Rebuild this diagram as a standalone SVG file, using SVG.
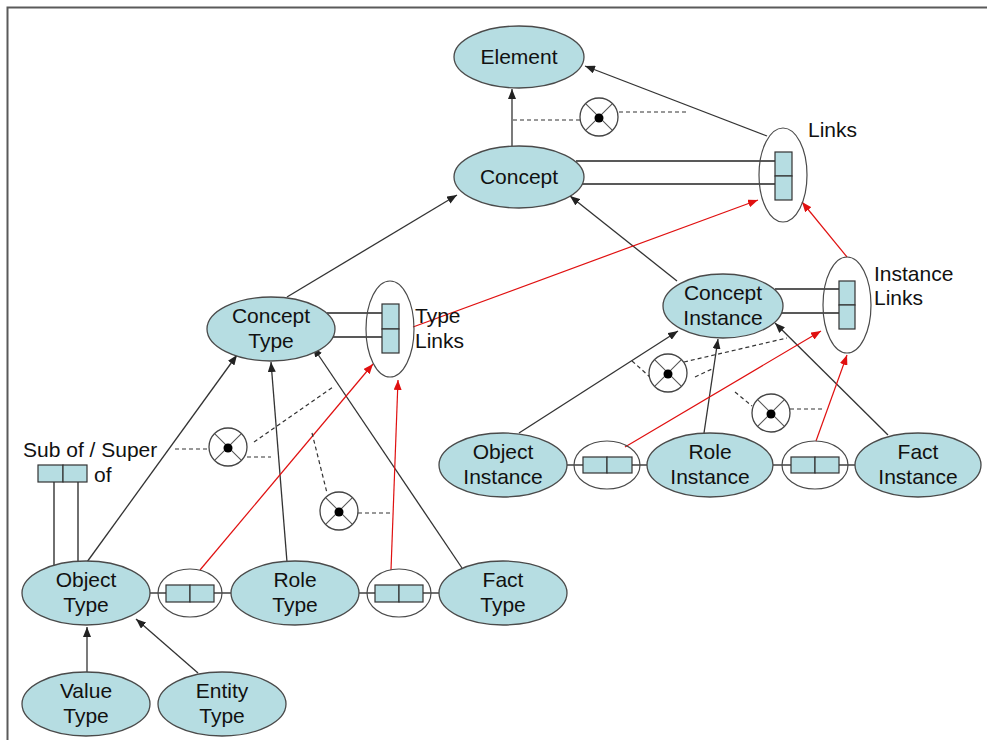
<svg xmlns="http://www.w3.org/2000/svg" width="987" height="740" viewBox="0 0 987 740">
  <defs>
    <marker id="arrowBlack" markerUnits="userSpaceOnUse" markerWidth="10" markerHeight="8" refX="10" refY="4" orient="auto">
      <path d="M0,0 L10,4 L0,8 z" fill="#222"/>
    </marker>
    <marker id="arrowRed" markerUnits="userSpaceOnUse" markerWidth="10" markerHeight="8" refX="10" refY="4" orient="auto">
      <path d="M0,0 L10,4 L0,8 z" fill="#e01010"/>
    </marker>
    <!-- exclusion symbol: circle with a cross and a centre dot -->
    <g id="xcircle">
      <circle cx="0" cy="0" r="19" fill="#fff" stroke="#444" stroke-width="1.3"/>
      <line x1="-13.4" y1="-13.4" x2="13.4" y2="13.4" stroke="#555" stroke-width="1.1"/>
      <line x1="13.4" y1="-13.4" x2="-13.4" y2="13.4" stroke="#555" stroke-width="1.1"/>
      <circle cx="0" cy="1" r="4.5" fill="#000"/>
    </g>
  </defs>
  <style>
    .node { fill: #b6dde2; stroke: #4a4a4a; stroke-width: 1.3; }
    .link { fill: none; stroke: #4a4a4a; stroke-width: 1.2; }
    .cell { fill: #b6dde2; stroke: #333; stroke-width: 1.2; }
    .bar { stroke: #222; stroke-width: 1.3; fill: none; }
    .arrow { stroke: #333; stroke-width: 1.3; fill: none; marker-end: url(#arrowBlack); }
    .red { stroke: #e01010; stroke-width: 1.2; fill: none; marker-end: url(#arrowRed); }
    .dash { stroke: #333; stroke-width: 1.2; stroke-dasharray: 4 3; fill: none; }
    text { font-family: "Liberation Sans", Arial, sans-serif; font-size: 21px; fill: #111; }
    .c { text-anchor: middle; }
  </style>

  <rect width="987" height="740" fill="#fff"/>
  <!-- slide frame -->
  <path d="M7.5,740 V7.5 H987" fill="none" stroke="#5a5a5a" stroke-width="2"/>

  <!-- connectors -->
  <g id="connectors">
    <!-- role bars from nodes into link ellipses -->
    <line class="bar" x1="576" y1="161" x2="775" y2="161"/>
    <line class="bar" x1="575" y1="184" x2="775" y2="184"/>
    <line class="bar" x1="327" y1="313" x2="382" y2="313"/>
    <line class="bar" x1="326" y1="337" x2="382" y2="337"/>
    <line class="bar" x1="775" y1="289" x2="839" y2="289"/>
    <line class="bar" x1="777" y1="313" x2="839" y2="313"/>
    <line class="bar" x1="54" y1="482" x2="54" y2="567"/>
    <line class="bar" x1="78" y1="482" x2="78" y2="562"/>
    <!-- chains along the type row -->
    <line class="bar" x1="150" y1="593" x2="166" y2="593"/>
    <line class="bar" x1="214" y1="593" x2="231" y2="593"/>
    <line class="bar" x1="359" y1="593" x2="375" y2="593"/>
    <line class="bar" x1="423" y1="593" x2="439" y2="593"/>
    <!-- chains along the instance row -->
    <line class="bar" x1="567" y1="465" x2="583" y2="465"/>
    <line class="bar" x1="632" y1="465" x2="647" y2="465"/>
    <line class="bar" x1="773" y1="465" x2="791" y2="465"/>
    <line class="bar" x1="839" y1="465" x2="855" y2="465"/>

    <!-- subtype arrows -->
    <line class="arrow" x1="512" y1="146" x2="512" y2="89"/>
    <line class="arrow" x1="767" y1="136" x2="585" y2="66"/>
    <line class="arrow" x1="287" y1="297" x2="457" y2="195"/>
    <line class="arrow" x1="677" y1="281" x2="570" y2="196"/>
    <line class="arrow" x1="87" y1="562" x2="237" y2="355"/>
    <line class="arrow" x1="287" y1="562" x2="271" y2="362"/>
    <line class="arrow" x1="462" y1="568" x2="313" y2="347"/>
    <line class="arrow" x1="519" y1="433" x2="678" y2="331"/>
    <line class="arrow" x1="704" y1="433" x2="718" y2="339"/>
    <line class="arrow" x1="888" y1="435" x2="775" y2="323"/>
    <line class="arrow" x1="87" y1="672" x2="87" y2="627"/>
    <line class="arrow" x1="198" y1="673" x2="136" y2="619"/>

    <!-- link subtype arrows -->
    <line class="red" x1="200" y1="570" x2="373" y2="364"/>
    <line class="red" x1="391" y1="570" x2="398" y2="380"/>
    <line class="red" x1="413" y1="327" x2="758" y2="200"/>
    <line class="red" x1="625" y1="447" x2="821" y2="331"/>
    <line class="red" x1="816" y1="441" x2="847" y2="355"/>
    <line class="red" x1="847" y1="257" x2="802" y2="202"/>

    <!-- exclusion constraints -->
    <line class="dash" x1="513" y1="120" x2="580" y2="120"/>
    <line class="dash" x1="619" y1="112" x2="687" y2="112"/>
    <line class="dash" x1="175" y1="449" x2="209" y2="449"/>
    <line class="dash" x1="254" y1="442" x2="333" y2="387"/>
    <line class="dash" x1="247" y1="457" x2="271" y2="457"/>
    <line class="dash" x1="312" y1="433" x2="327" y2="493"/>
    <line class="dash" x1="358" y1="513" x2="392" y2="513"/>
    <line class="dash" x1="632" y1="361" x2="650" y2="377"/>
    <line class="dash" x1="684" y1="362" x2="787" y2="338"/>
    <line class="dash" x1="695" y1="377" x2="712" y2="369"/>
    <line class="dash" x1="735" y1="392" x2="752" y2="406"/>
    <line class="dash" x1="790" y1="409" x2="823" y2="409"/>
    <use href="#xcircle" x="599" y="117"/>
    <use href="#xcircle" x="228" y="447"/>
    <use href="#xcircle" x="339" y="511"/>
    <use href="#xcircle" x="668" y="373"/>
    <use href="#xcircle" x="771" y="413"/>
  </g>

  <!-- top level -->
  <g id="element">
    <ellipse class="node" cx="519" cy="57" rx="65" ry="31"/>
    <text class="c" x="519" y="64">Element</text>
  </g>
  <g id="concept">
    <ellipse class="node" cx="519" cy="177" rx="65" ry="31"/>
    <text class="c" x="519" y="184">Concept</text>
  </g>
  <g id="links">
    <ellipse class="link" cx="783" cy="175" rx="24" ry="47"/>
    <rect class="cell" x="775" y="152" width="17" height="24"/>
    <rect class="cell" x="775" y="176" width="17" height="24"/>
    <text x="808" y="137">Links</text>
  </g>

  <!-- type side -->
  <g id="concept-type">
    <ellipse class="node" cx="271" cy="329" rx="64" ry="32"/>
    <text class="c" x="271" y="323">Concept</text>
    <text class="c" x="271" y="348">Type</text>
  </g>
  <g id="type-links">
    <ellipse class="link" cx="390" cy="329" rx="24" ry="48"/>
    <rect class="cell" x="382" y="304" width="17" height="25"/>
    <rect class="cell" x="382" y="329" width="17" height="24"/>
    <text x="415" y="323">Type</text>
    <text x="415" y="348">Links</text>
  </g>
  <g id="sub-super">
    <rect class="cell" x="38" y="465" width="25" height="17"/>
    <rect class="cell" x="63" y="465" width="24" height="17"/>
    <text x="23" y="457">Sub of / Super</text>
    <text x="94" y="482">of</text>
  </g>
  <g id="object-type">
    <ellipse class="node" cx="86" cy="593" rx="64" ry="32"/>
    <text class="c" x="86" y="587">Object</text>
    <text class="c" x="86" y="612">Type</text>
  </g>
  <g id="object-role-link">
    <ellipse class="link" cx="190" cy="593" rx="32" ry="24"/>
    <rect class="cell" x="166" y="585" width="24" height="17"/>
    <rect class="cell" x="190" y="585" width="24" height="17"/>
  </g>
  <g id="role-type">
    <ellipse class="node" cx="295" cy="593" rx="64" ry="32"/>
    <text class="c" x="295" y="587">Role</text>
    <text class="c" x="295" y="612">Type</text>
  </g>
  <g id="role-fact-link">
    <ellipse class="link" cx="399" cy="593" rx="32" ry="24"/>
    <rect class="cell" x="375" y="585" width="24" height="17"/>
    <rect class="cell" x="399" y="585" width="24" height="17"/>
  </g>
  <g id="fact-type">
    <ellipse class="node" cx="503" cy="593" rx="64" ry="32"/>
    <text class="c" x="503" y="587">Fact</text>
    <text class="c" x="503" y="612">Type</text>
  </g>
  <g id="value-type">
    <ellipse class="node" cx="86" cy="704" rx="64" ry="32"/>
    <text class="c" x="86" y="698">Value</text>
    <text class="c" x="86" y="723">Type</text>
  </g>
  <g id="entity-type">
    <ellipse class="node" cx="222" cy="704" rx="64" ry="32"/>
    <text class="c" x="222" y="698">Entity</text>
    <text class="c" x="222" y="723">Type</text>
  </g>

  <!-- instance side -->
  <g id="concept-instance">
    <ellipse class="node" cx="723" cy="306" rx="60" ry="32"/>
    <text class="c" x="723" y="300">Concept</text>
    <text class="c" x="723" y="325">Instance</text>
  </g>
  <g id="instance-links">
    <ellipse class="link" cx="847" cy="305" rx="24" ry="48"/>
    <rect class="cell" x="839" y="281" width="16" height="24"/>
    <rect class="cell" x="839" y="305" width="16" height="24"/>
    <text x="874" y="281">Instance</text>
    <text x="874" y="305">Links</text>
  </g>
  <g id="object-instance">
    <ellipse class="node" cx="503" cy="465" rx="64" ry="32"/>
    <text class="c" x="503" y="459">Object</text>
    <text class="c" x="503" y="484">Instance</text>
  </g>
  <g id="object-role-instance-link">
    <ellipse class="link" cx="607" cy="465" rx="33" ry="24"/>
    <rect class="cell" x="583" y="457" width="24" height="16"/>
    <rect class="cell" x="607" y="457" width="25" height="16"/>
  </g>
  <g id="role-instance">
    <ellipse class="node" cx="710" cy="465" rx="63" ry="32"/>
    <text class="c" x="710" y="459">Role</text>
    <text class="c" x="710" y="484">Instance</text>
  </g>
  <g id="role-fact-instance-link">
    <ellipse class="link" cx="815" cy="465" rx="33" ry="24"/>
    <rect class="cell" x="791" y="457" width="24" height="16"/>
    <rect class="cell" x="815" y="457" width="24" height="16"/>
  </g>
  <g id="fact-instance">
    <ellipse class="node" cx="918" cy="465" rx="63" ry="32"/>
    <text class="c" x="918" y="459">Fact</text>
    <text class="c" x="918" y="484">Instance</text>
  </g>
</svg>
